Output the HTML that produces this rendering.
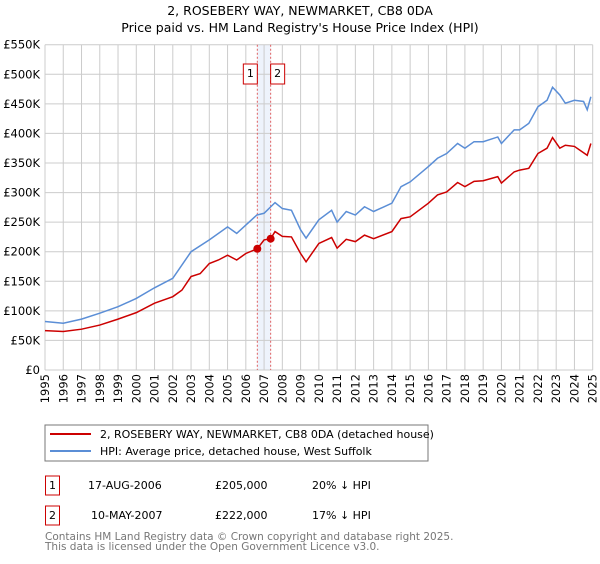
<!DOCTYPE html>
<html><head><meta charset="utf-8"><style>
body{margin:0;background:#fff;width:600px;height:560px;overflow:hidden;font-family:"DejaVu Sans","Liberation Sans",sans-serif}
svg text{font-family:"DejaVu Sans","Liberation Sans",sans-serif}
</style></head><body>
<svg id="c" width="600" height="560" xmlns="http://www.w3.org/2000/svg">
<text x="300" y="15" text-anchor="middle" font-size="12.5">2, ROSEBERY WAY, NEWMARKET, CB8 0DA</text>
<text x="300" y="32" text-anchor="middle" font-size="12.5">Price paid vs. HM Land Registry's House Price Index (HPI)</text>
<g id="grid"></g>
<g id="series"></g>
<rect x="45" y="425" width="383" height="36" fill="#fff" stroke="#777"/>
<line x1="50" y1="434" x2="91" y2="434" stroke="#cc0000" stroke-width="2"/>
<text x="100" y="438" font-size="11">2, ROSEBERY WAY, NEWMARKET, CB8 0DA (detached house)</text>
<line x1="50" y1="451" x2="91" y2="451" stroke="#5b8ed6" stroke-width="2"/>
<text x="100" y="455" font-size="11">HPI: Average price, detached house, West Suffolk</text>
<g>
<rect x="45.5" y="476" width="14" height="19" fill="#fff" stroke="#cc0000"/>
<text x="52.5" y="489" text-anchor="middle" font-size="11">1</text>
<text x="88" y="489" font-size="11">17-AUG-2006</text>
<text x="215" y="489" font-size="11">£205,000</text>
<text x="312" y="489" font-size="11">20% ↓ HPI</text></g>
<g>
<rect x="45.5" y="506" width="14" height="19" fill="#fff" stroke="#cc0000"/>
<text x="52.5" y="519" text-anchor="middle" font-size="11">2</text>
<text x="91" y="519" font-size="11">10-MAY-2007</text>
<text x="215" y="519" font-size="11">£222,000</text>
<text x="312" y="519" font-size="11">17% ↓ HPI</text></g>
<text x="45" y="540" font-size="10.5" fill="#777">Contains HM Land Registry data © Crown copyright and database right 2025.</text>
<text x="45" y="550" font-size="10.5" fill="#777">This data is licensed under the Open Government Licence v3.0.</text>
</svg>
<script>
const yTicks=[0,50,100,150,200,250,300,350,400,450,500,550];
const yTickLabels=["£0","£50K","£100K","£150K","£200K","£250K","£300K","£350K","£400K","£450K","£500K","£550K"];
const years=[1995,1996,1997,1998,1999,2000,2001,2002,2003,2004,2005,2006,2007,2008,2009,2010,2011,2012,2013,2014,2015,2016,2017,2018,2019,2020,2021,2022,2023,2024,2025];
const hpiT=[1995,1996,1997,1998,1999,2000,2001,2002,2003,2004,2005,2005.5,2006,2006.6,2007,2007.6,2008,2008.5,2009,2009.3,2010,2010.7,2011,2011.5,2012,2012.5,2013,2014,2014.5,2015,2016,2016.5,2017,2017.6,2018,2018.5,2019,2019.8,2020,2020.7,2021,2021.5,2022,2022.5,2022.8,2023.2,2023.5,2024,2024.5,2024.7,2024.9];
const hpiV=[82,79,86,96,107,121,139,155,200,220,242,231,245,262,265,283,273,270,237,223,254,270,250,268,262,276,268,282,310,318,344,358,366,383,375,386,386,394,383,406,406,417,445,456,478,465,451,456,454,440,462];
const priceT=[1995,1996,1997,1998,1999,2000,2001,2002,2002.5,2003,2003.5,2004,2004.5,2005,2005.5,2006,2006.63,2007,2007.36,2007.6,2008,2008.5,2009,2009.3,2010,2010.7,2011,2011.5,2012,2012.5,2013,2014,2014.5,2015,2016,2016.5,2017,2017.6,2018,2018.5,2019,2019.8,2020,2020.7,2021,2021.5,2022,2022.5,2022.8,2023.2,2023.5,2024,2024.7,2024.9];
const priceV=[66.5,65,69,76,86,97,113,124,135,158,163,180,186,194,186,197,205,220,222,234,226,225,197,183,214,224,206,221,217,228,222,234,256,259,282,296,301,317,310,319,320,327,316,335,338,341,366,375,393,375,380,378,363,383];
const saleT=[2006.63,2007.36];
const saleV=[205,222];
const saleLabels=["1","2"];
const NS="http://www.w3.org/2000/svg";
const X0=45,X1=592.7,Y0=370,Y1=44.7;
const xs=t=>X0+(t-1995)/30*(X1-X0);
const ys=v=>Y0-v/550*(Y0-Y1);
const svg=document.getElementById('c'),grid=document.getElementById('grid'),ser=document.getElementById('series');
function mk(tag,a,p){const e=document.createElementNS(NS,tag);for(const k in a)e.setAttribute(k,a[k]);p.appendChild(e);return e;}
const band=mk('rect',{x:xs(saleT[0]),y:Y1,width:xs(saleT[1])-xs(saleT[0]),height:Y0-Y1,fill:'#eef3fc'},grid);


years.forEach(y=>{const l=mk('line',{x1:xs(y),x2:xs(y),y1:Y1,y2:Y0,stroke:'#cccccc'},grid);


const t=mk('text',{x:0,y:0,'font-size':'11.5','text-anchor':'end',transform:`translate(${xs(y)+4},374) rotate(-90)`},svg);
t.textContent=y;

});
yTicks.forEach((v,i)=>{const l=mk('line',{x1:X0,x2:X1,y1:ys(v),y2:ys(v),stroke:'#cccccc'},grid);


const t=mk('text',{x:40,y:ys(v)+4,'font-size':'11.5','text-anchor':'end'},svg);
t.textContent=yTickLabels[i];

});
saleT.forEach(t=>{const l=mk('line',{x1:xs(t),x2:xs(t),y1:Y1,y2:Y0,stroke:'#e06060','stroke-dasharray':'2,2'},grid);

});
const hp=mk('polyline',{points:hpiT.map((t,i)=>xs(t)+','+ys(hpiV[i])).join(' '),fill:'none',stroke:'#5b8ed6','stroke-width':1.5},ser);


const pp=mk('polyline',{points:priceT.map((t,i)=>xs(t)+','+ys(priceV[i])).join(' '),fill:'none',stroke:'#cc0000','stroke-width':1.5},ser);


saleT.forEach((t,i)=>{const c=mk('circle',{cx:xs(t),cy:ys(saleV[i]),r:4,fill:'#cc0000'},ser);


const g=mk('g',{},ser);


const bx=i==0?xs(t)-14:xs(t)-0;
mk('rect',{x:bx,y:64,width:14,height:20,fill:'#fff',stroke:'#cc0000'},g);
const tx=mk('text',{x:bx+7,y:77,'text-anchor':'middle','font-size':'11'},g);tx.textContent=saleLabels[i];});
</script>
</body></html>
